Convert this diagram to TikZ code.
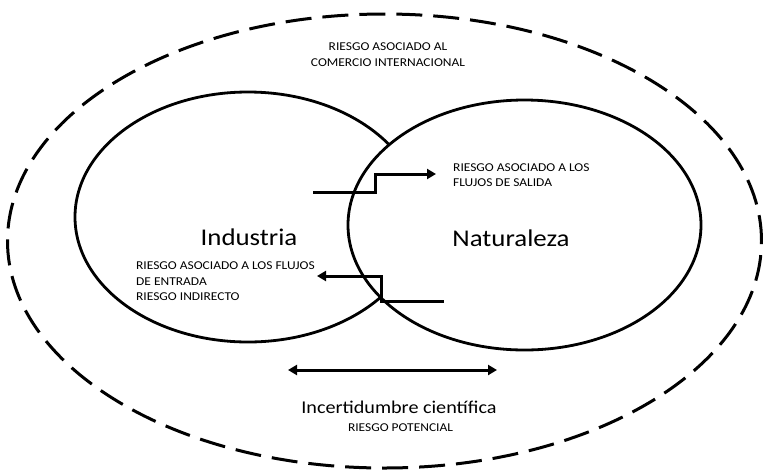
\documentclass[tikz,border=0pt]{standalone}
\usepackage{fontspec}
\setmainfont[FakeStretch=1.12]{Carlito}
\usetikzlibrary{shapes.geometric,arrows.meta}
\tikzset{
  circ/.style={ellipse, draw, line width=2.8pt, inner sep=0pt},
  outer/.style={ellipse, draw, line width=3pt, dash pattern=on 26pt off 11pt, inner sep=0pt},
  flow/.style={line width=3pt, -{Triangle[length=9pt,width=10pt]}},
  small/.style={font=\fontsize{12}{15.7}\selectfont, inner sep=0pt},
  big/.style={font=\fontsize{24}{28}\selectfont, inner sep=0pt},
  mid/.style={font=\fontsize{18}{22}\selectfont, inner sep=0pt}
}
\begin{document}
\begin{tikzpicture}[x=1pt,y=-1pt]
\useasboundingbox (0,0) rectangle (763,472);
\node[outer, minimum width=754pt, minimum height=454pt] (comercio) at (384.5,241) {};
\node[circ, minimum width=346pt, minimum height=250pt] (ind) at (248,217) {};
\node[circ, fill=white, minimum width=353pt, minimum height=250pt] (nat) at (524.5,225) {};
% texts (base anchor = baseline of the last line)
\node[small, anchor=base, align=center] (tcom) at (388,66) {RIESGO ASOCIADO AL\\COMERCIO INTERNACIONAL};
\node[small, anchor=base west, align=left] (tsal) at (453,186.7) {RIESGO ASOCIADO A LOS\\FLUJOS DE SALIDA};
\node[small, anchor=base west, align=left] (tent) at (136,300.7) {RIESGO ASOCIADO A LOS FLUJOS\\DE ENTRADA\\RIESGO INDIRECTO};
\node[big, anchor=base] (tind) at (249,245) {Industria};
\node[big, anchor=base] (tnat) at (511,246) {Naturaleza};
\node[mid, anchor=base] (tinc) at (399,413) {Incertidumbre científica};
\node[small, anchor=base] (tpot) at (400.5,431.7) {RIESGO POTENCIAL};
% arrows
\coordinate (s0) at (313,192.3);
\coordinate (s1) at (375,192.3);
\coordinate (s2) at (375,174);
\coordinate (s3) at (436,174);
\draw[flow] (s0) -- (s1) -- (s2) -- (s3);
\coordinate (e0) at (443.5,301.5);
\coordinate (e1) at (381.7,301.5);
\coordinate (e2) at (381.7,276);
\coordinate (e3) at (317,276);
\draw[flow] (e0) -- (e1) -- (e2) -- (e3);
\coordinate (u0) at (288,370);
\coordinate (u1) at (497,370);
\draw[line width=3pt, {Triangle[length=9pt,width=10pt]}-{Triangle[length=9pt,width=10pt]}] (u0) -- (u1);
\end{tikzpicture}
\end{document}
